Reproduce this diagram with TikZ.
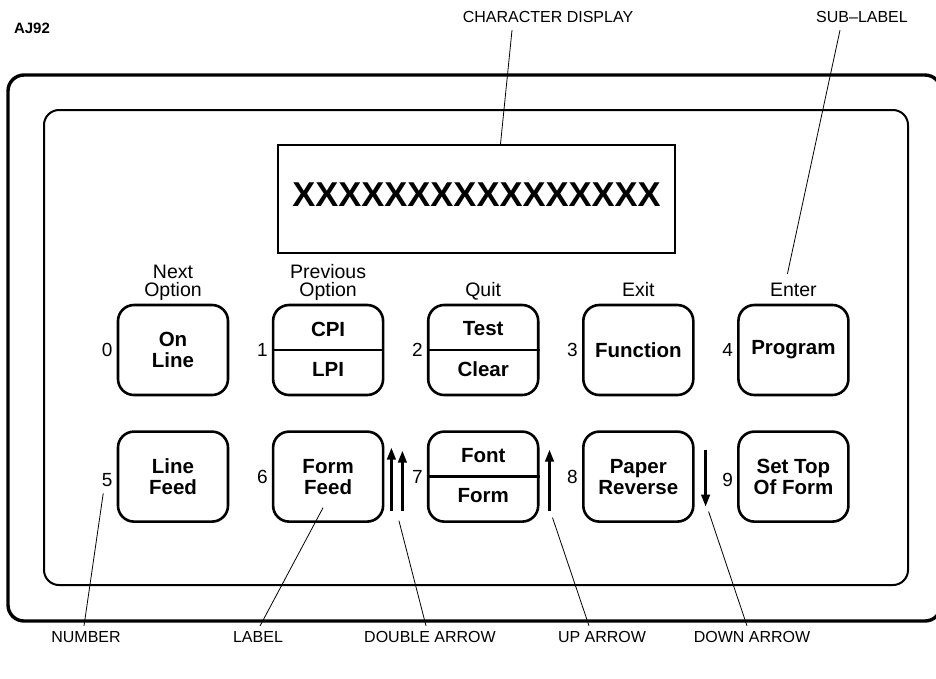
\documentclass[tikz,border=0pt]{standalone}
\usepackage{fontspec}
\setmainfont{Liberation Sans}
\usetikzlibrary{arrows.meta, positioning, calc}

\begin{document}
\begin{tikzpicture}[
    x=1pt, y=-1pt,
    node distance=34pt and 42.5pt,
    key/.style={rectangle, draw, line width=2.6pt, rounded corners=16pt, minimum width=110pt, minimum height=90pt, align=center, font=\bfseries\fontsize{20.5}{21}\selectfont},
    keytext/.style={font=\bfseries\fontsize{20.5}{21}\selectfont},
    num/.style={inner sep=1pt, font=\fontsize{19}{19}\selectfont},
    sublabel/.style={align=center, inner sep=1pt, text depth=0pt, font=\fontsize{19.5}{18}\selectfont},
    caption/.style={font=\fontsize{16}{16}\selectfont},
    leader/.style={draw, line width=0.8pt},
    feedarrow/.style={draw, line width=2.6pt, -{Triangle[length=12pt, width=8.5pt]}}
]
    \useasboundingbox (0,0) rectangle (936,678);

    % panel outlines
    \begin{scope}
        \clip (0,0) rectangle (936,678);
        \draw [line width=3.4pt, rounded corners=16pt] (8,75) rectangle (941,621);
    \end{scope}
    \draw [line width=2pt, rounded corners=15pt] (44,110) rectangle (908,585);

    \node [draw, line width=2pt, minimum width=397pt, minimum height=108pt] (disp) at (476.5,199) {};
    \node [font=\bfseries\fontsize{34.5}{34.5}\selectfont] (xs) at (476.5,195) {XXXXXXXXXXXXXXXX};

    \node [font=\bfseries\fontsize{15}{15}\selectfont] (aj) at (32,28) {AJ92};

    % keys, top row
    \node [key] (k0) at (173,350) {On\\Line};
    \node [key, right=of k0] (k1) {};
    \node [key, right=of k1] (k2) {};
    \node [key, right=of k2] (k3) {Function};
    \node [key, right=of k3] (k4) {\raisebox{-2pt}{Program}};

    % keys, bottom row
    \node [key, below=of k0] (k5) {Line\\Feed};
    \node [key, right=of k5] (k6) {Form\\Feed};
    \node [key, right=of k6] (k7) {};
    \node [key, right=of k7] (k8) {Paper\\Reverse};
    \node [key, right=of k8] (k9) {Set Top\\Of Form};

    % split keys
    \draw [line width=2.6pt] (k1.west) -- (k1.east);
    \draw [line width=2.6pt] (k2.west) -- (k2.east);
    \draw [line width=2.6pt] (k7.west) -- (k7.east);
    \node [keytext] (cpi) at ($(k1.center)+(0,-21)$) {CPI};
    \node [keytext] (lpi) at ($(k1.center)+(0,19)$) {LPI};
    \node [keytext] (test) at ($(k2.center)+(0,-21)$) {Test};
    \node [keytext] (clear) at ($(k2.center)+(0,19)$) {Clear};
    \node [keytext] (font) at ($(k7.center)+(0,-21)$) {Font};
    \node [keytext] (form) at ($(k7.center)+(0,19)$) {Form};

    % key numbers
    \node [num, left=3pt of k0] (n0) {0};
    \node [num, left=3pt of k1] (n1) {1};
    \node [num, left=3pt of k2] (n2) {2};
    \node [num, left=3pt of k3] (n3) {3};
    \node [num, left=3pt of k4] (n4) {4};
    \node [num, left=3pt of k5, yshift=-3pt] (n5) {5};
    \node [num, left=3pt of k6] (n6) {6};
    \node [num, left=3pt of k7] (n7) {7};
    \node [num, left=3pt of k8] (n8) {8};
    \node [num, left=3pt of k9, yshift=-3pt] (n9) {9};

    % sub-labels
    \node [sublabel, above=6pt of k0] (s0) {Next\\Option};
    \node [sublabel, above=6pt of k1] (s1) {Previous\\Option};
    \node [sublabel, above=6pt of k2] (s2) {Quit};
    \node [sublabel, above=6pt of k3] (s3) {Exit};
    \node [sublabel, above=6pt of k4] (s4) {Enter};

    % feed arrows
    \coordinate (dblA) at ($(k6.east)+(7,34)$);
    \coordinate (dblB) at ($(k6.east)+(18,34)$);
    \coordinate (upA) at ($(k7.east)+(10,34)$);
    \coordinate (downA) at ($(k8.east)+(11,-27)$);
    \draw [feedarrow] (dblA) -- ++(0,-63);
    \draw [feedarrow] (dblB) -- ++(0,-60);
    \draw [feedarrow] (upA) -- ++(0,-61);
    \draw [feedarrow] (downA) -- ++(0,57);

    % callouts
    \node [caption] (cdisp) at (548,17) {CHARACTER DISPLAY};
    \node [caption] (csub) at (862,17) {SUB--LABEL};
    \node [caption] (cnum) at (86,637) {NUMBER};
    \node [caption] (clab) at (258,637) {LABEL};
    \node [caption] (cdbl) at (430,637) {DOUBLE ARROW};
    \node [caption] (cup) at (602,637) {UP ARROW};
    \node [caption] (cdown) at (752,637) {DOWN ARROW};

    \draw [leader] ([xshift=-36pt, yshift=-4pt]cdisp.south) -- ([xshift=24pt]disp.north);
    \draw [leader] ([xshift=-22pt, yshift=-4pt]csub.south) -- ([xshift=-6pt, yshift=8pt]s4.north);
    \draw [leader] ([xshift=-2pt, yshift=2pt]cnum.north) -- ([xshift=-4pt, yshift=-6pt]n5.south);
    \draw [leader] ([xshift=2pt, yshift=2pt]clab.north) -- ([xshift=-5pt, yshift=-31pt]k6.center);
    \draw [leader] ([xshift=-4pt, yshift=2pt]cdbl.north) -- ($(dblA)!0.5!(dblB)+(2,10)$);
    \draw [leader] ([xshift=-13pt, yshift=2pt]cup.north) -- ($(upA)+(3,7)$);
    \draw [leader] ([xshift=-5pt, yshift=2pt]cdown.north) -- ($(downA)+(3,62)$);

\end{tikzpicture}
\end{document}
